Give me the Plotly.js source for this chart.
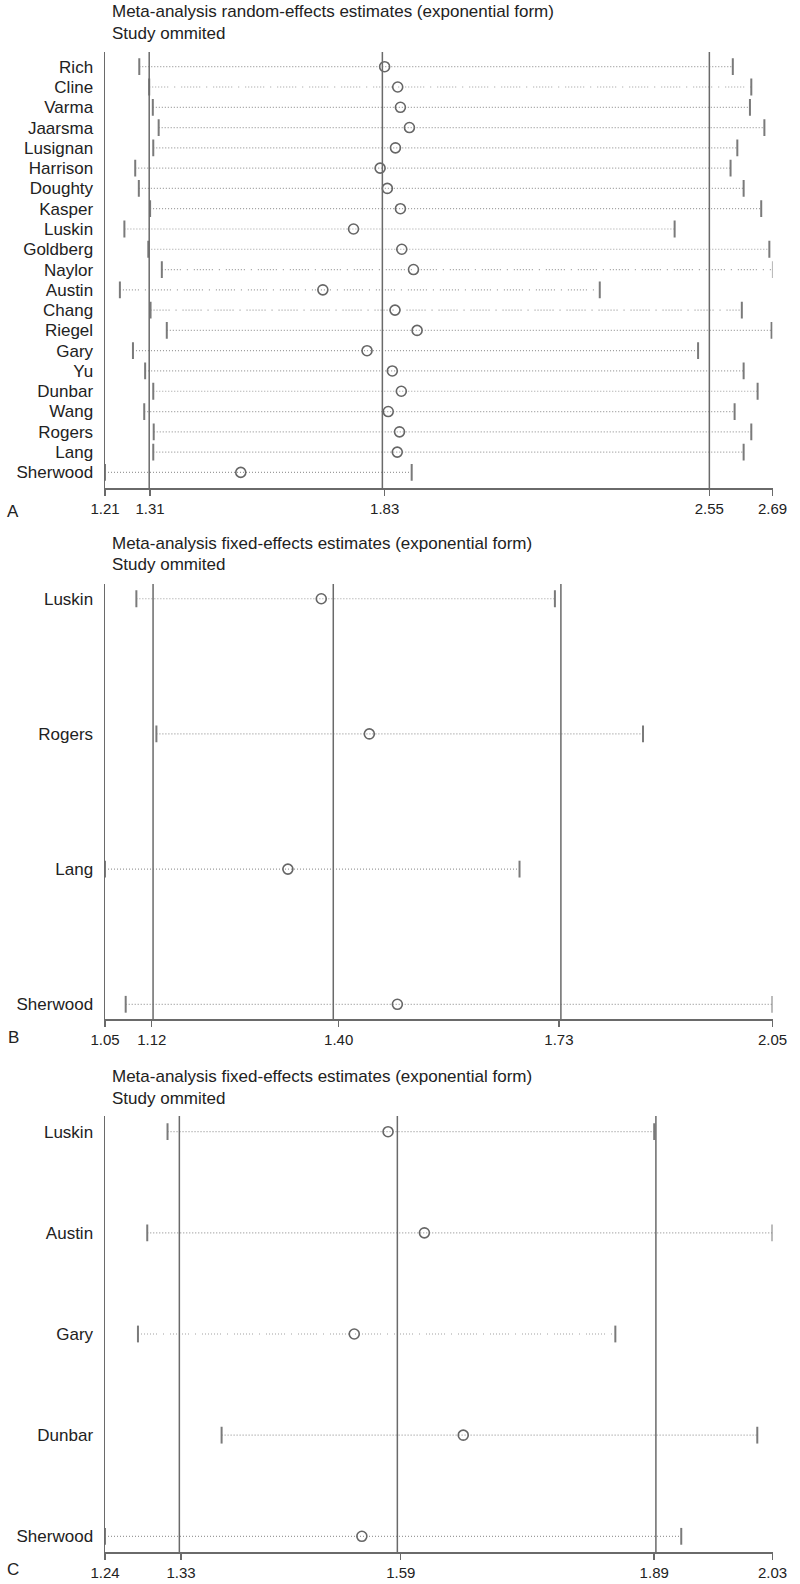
<!DOCTYPE html>
<html><head><meta charset="utf-8">
<script src="https://cdn.plot.ly/plotly-3.0.1.min.js"></script>
<style>html,body{margin:0;padding:0;background:#fff}#chart{width:800px;height:1584px}</style>
</head><body><div id="chart"></div>
<script>
// ---------- Panel A: random-effects ----------
const studiesA = ["Rich","Cline","Varma","Jaarsma","Lusignan","Harrison","Doughty","Kasper","Luskin","Goldberg","Naylor","Austin","Chang","Riegel","Gary","Yu","Dunbar","Wang","Rogers","Lang","Sherwood"];
const estA  = [1.830,1.859,1.865,1.885,1.854,1.820,1.836,1.865,1.761,1.868,1.894,1.693,1.853,1.902,1.791,1.847,1.867,1.838,1.863,1.858,1.511];
const lowA  = [1.286,1.308,1.316,1.329,1.317,1.277,1.285,1.310,1.253,1.306,1.336,1.243,1.311,1.347,1.272,1.299,1.317,1.297,1.318,1.317,1.210];
const highA = [2.602,2.643,2.640,2.672,2.612,2.597,2.626,2.665,2.473,2.683,2.691,2.307,2.622,2.688,2.525,2.626,2.657,2.606,2.643,2.626,1.890];
const brokenA = ["Cline","Naylor","Austin","Chang"];
const refA = [1.308, 1.825, 2.550];
const tickValsA = [1.21, 1.31, 1.83, 2.55, 2.69];
const tickTextA = ["1.21","1.31","1.83","2.55","2.69"];

// ---------- Panel B: fixed-effects ----------
const studiesB = ["Luskin","Rogers","Lang","Sherwood"];
const estB  = [1.374,1.446,1.324,1.488];
const lowB  = [1.097,1.127,1.050,1.081];
const highB = [1.724,1.856,1.671,2.050];
const brokenB = [];
const refB = [1.122, 1.392, 1.733];
const tickValsB = [1.05, 1.12, 1.40, 1.73, 2.05];
const tickTextB = ["1.05","1.12","1.40","1.73","2.05"];

// ---------- Panel C: fixed-effects ----------
const studiesC = ["Luskin","Austin","Gary","Dunbar","Sherwood"];
const estC  = [1.575,1.618,1.535,1.664,1.544];
const lowC  = [1.314,1.290,1.279,1.378,1.240];
const highC = [1.890,2.030,1.844,2.012,1.922];
const brokenC = ["Gary"];
const refC = [1.328, 1.586, 1.892];
const tickValsC = [1.24, 1.33, 1.59, 1.89, 2.03];
const tickTextC = ["1.24","1.33","1.59","1.89","2.03"];

const titleLine1 = ["Meta-analysis random-effects estimates (exponential form)",
                    "Meta-analysis fixed-effects estimates (exponential form)",
                    "Meta-analysis fixed-effects estimates (exponential form)"];
const titleLine2 = "Study ommited";
const panelLetters = ["A","B","C"];

// ---------- styling ----------
const FONT = "Liberation Sans, Arial, sans-serif";
const TXT = "#222222";
const AX = "#6a6a6a";
const DOT = "#9c9c9c";
const CAP = "#7a7a7a";
const W = 800, H = 1584;
const px2y = p => 1 - p / H;

function panelTraces(names, est, lo, hi, broken, ax) {
  const xa = ax === 1 ? "x" : "x" + ax, ya = ax === 1 ? "y" : "y" + ax;
  const traces = [];
  const mk = (filterFn, dash) => {
    const xs = [], ys = [];
    names.forEach((n, i) => { if (filterFn(n)) { xs.push(lo[i], hi[i], null); ys.push(n, n, null); } });
    if (xs.length) traces.push({type:"scatter", mode:"lines", x:xs, y:ys, xaxis:xa, yaxis:ya,
      line:{color:DOT, width:1.2, dash:dash}, hoverinfo:"skip", showlegend:false});
  };
  mk(n => !broken.includes(n), "1px,2px");
  mk(n => broken.includes(n), "1px,2px,1px,2px,1px,2px,1px,2px,1px,2px,1px,2px,1px,6px,1px,6px");
  // CI caps
  traces.push({type:"scatter", mode:"markers", x:lo.concat(hi), y:names.concat(names), xaxis:xa, yaxis:ya,
    marker:{symbol:"line-ns-open", size:12, color:CAP, line:{color:CAP, width:2}}, hoverinfo:"skip", showlegend:false});
  // point estimates
  traces.push({type:"scatter", mode:"markers", x:est, y:names, xaxis:xa, yaxis:ya,
    marker:{symbol:"circle-open", size:10, color:"#666", line:{color:"#666", width:1.6}},
    hoverinfo:"skip", showlegend:false});
  return traces;
}

const data = [].concat(
  panelTraces(studiesA, estA, lowA, highA, brokenA, 1),
  panelTraces(studiesB, estB, lowB, highB, brokenB, 2),
  panelTraces(studiesC, estC, lowC, highC, brokenC, 3)
);

const xDom = [105 / W, 772.5 / W];
const panels = [
  {top:52,   bottom:488.3,  range:[1.21,2.69], tv:tickValsA, tt:tickTextA, names:studiesA, ypad:[-0.784, 20.725], ref:refA, title:12,   letter:511},
  {top:584,  bottom:1019.3, range:[1.05,2.05], tv:tickValsB, tt:tickTextB, names:studiesB, ypad:[-0.111, 3.109],  ref:refB, title:543,  letter:1037},
  {top:1116, bottom:1552,   range:[1.24,2.03], tv:tickValsC, tt:tickTextC, names:studiesC, ypad:[-0.155, 4.155],  ref:refC, title:1076, letter:1569}
];

const layout = {
  width: W, height: H,
  margin: {l:0, r:0, t:0, b:0},
  paper_bgcolor: "#fff", plot_bgcolor: "#fff",
  font: {family: FONT, color: TXT},
  showlegend: false,
  shapes: [], annotations: []
};

panels.forEach((p, k) => {
  const s = k === 0 ? "" : String(k + 1);
  layout["xaxis" + s] = {
    domain: xDom, anchor: "y" + s, range: p.range, fixedrange: true,
    tickmode: "array", tickvals: p.tv, ticktext: p.tt,
    ticks: "outside", ticklen: 6, tickwidth: 1.5, tickcolor: AX,
    showline: true, linecolor: AX, linewidth: 1.5,
    showgrid: false, zeroline: false,
    tickfont: {family: FONT, size: 15, color: TXT}
  };
  layout["yaxis" + s] = {
    domain: [px2y(p.bottom), px2y(p.top)], anchor: "x" + s,
    type: "category", categoryorder: "array", categoryarray: p.names.slice().reverse(),
    range: p.ypad, fixedrange: true,
    ticks: "", showline: true, linecolor: AX, linewidth: 1.5,
    showgrid: false, zeroline: false, ticklabelstandoff: 7,
    tickfont: {family: FONT, size: 17, color: TXT}
  };
  p.ref.forEach(v => layout.shapes.push({
    type: "line", xref: "x" + s, yref: "y" + s + " domain", x0: v, x1: v, y0: 0, y1: 1,
    line: {color: AX, width: 1.5}, layer: "above"
  }));
  layout.annotations.push({
    text: titleLine1[k], xref: "paper", yref: "paper", x: 110 / W, y: px2y(p.title),
    xanchor: "left", yanchor: "middle", showarrow: false,
    font: {family: FONT, size: 17, color: TXT}
  });
  layout.annotations.push({
    text: titleLine2, xref: "paper", yref: "paper", x: 110 / W, y: px2y(p.title + 22),
    xanchor: "left", yanchor: "middle", showarrow: false,
    font: {family: FONT, size: 17, color: TXT}
  });
  layout.annotations.push({
    text: panelLetters[k], xref: "paper", yref: "paper", x: 13 / W, y: px2y(p.letter),
    xanchor: "center", yanchor: "middle", showarrow: false,
    font: {family: FONT, size: 17, color: TXT}
  });
});

Plotly.newPlot("chart", data, layout, {staticPlot: true, displayModeBar: false});
</script>
</body></html>
